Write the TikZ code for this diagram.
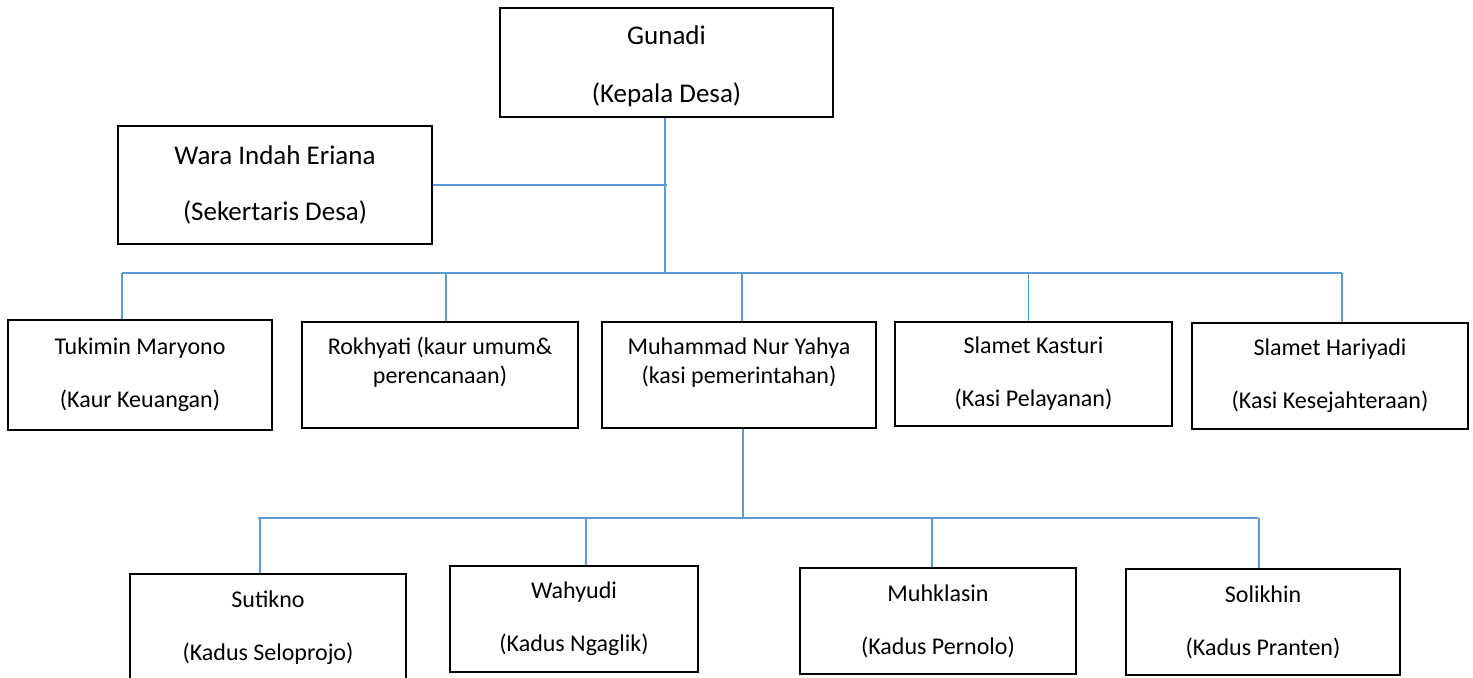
\documentclass[tikz,border=0pt]{standalone}
\usepackage{fontspec}
\setmainfont{Carlito}
\definecolor{linkblue}{RGB}{91,155,213}

\begin{document}
\begin{tikzpicture}[
  x=0.5pt, y=-0.5pt,
  box/.style={draw, thick, rectangle, align=center, inner sep=0pt,
    font=\fontsize{12}{14.5}\selectfont},
  bigbox/.style={box, font=\fontsize{13.5}{16}\selectfont},
  link/.style={linkblue, line width=0.75pt},
]
\useasboundingbox (0,0) rectangle (1473,677);

% kepala desa and sekretaris
\node (gunadi) [bigbox, minimum width=166.5pt, minimum height=54.5pt] at (666.5, 62.5)
  {\rule{0pt}{13.5pt}Gunadi\\[13pt](Kepala Desa)};
\node (wara) [bigbox, minimum width=157pt, minimum height=59pt] at (275, 185)
  {Wara Indah Eriana\\[12pt](Sekertaris Desa)};

% kaur and kasi
\node (tukimin) [box, minimum width=132pt, minimum height=55pt] at (140, 375)
  {Tukimin Maryono\\[12pt](Kaur Keuangan)};
\node (rokhyati) [box, minimum width=138pt, minimum height=53pt] at (440, 375)
  {Rokhyati (kaur umum\&\\perencanaan)\\~};
\node (muhammad) [box, minimum width=137pt, minimum height=53pt] at (739, 375)
  {Muhammad Nur Yahya\\(kasi pemerintahan)\\~};
\node (kasturi) [box, minimum width=138.5pt, minimum height=52pt] at (1033.5, 374)
  {Slamet Kasturi\\[12pt](Kasi Pelayanan)};
\node (hariyadi) [box, minimum width=138pt, minimum height=53pt] at (1330, 376)
  {Slamet Hariyadi\\[12pt](Kasi Kesejahteraan)};

% kadus
\node (sutikno) [box, minimum width=138pt, minimum height=54pt] at (268, 628)
  {Sutikno\\[12pt](Kadus Seloprojo)};
\node (wahyudi) [box, minimum width=124pt, minimum height=53pt] at (574, 619)
  {Wahyudi\\[12pt](Kadus Ngaglik)};
\node (muhklasin) [box, minimum width=138pt, minimum height=53pt] at (938, 621)
  {Muhklasin\\[12pt](Kadus Pernolo)};
\node (solikhin) [box, minimum width=137pt, minimum height=53pt] at (1263, 622)
  {Solikhin\\[12pt](Kadus Pranten)};

% bus lines
\coordinate (busA) at (122, 273);
\coordinate (busB) at (1342, 273);
\coordinate (busC) at (258, 518);
\coordinate (busD) at (1258, 518);

\draw[link] ([xshift=-0.75pt]gunadi.south) -- ([xshift=-0.75pt]gunadi.south |- busA);
\draw[link] (wara.east) -- (wara.east -| gunadi.south);
\draw[link] (busA) -- (busB);
\foreach \b/\dx in {tukimin/-9pt, rokhyati/3pt, muhammad/1.5pt, kasturi/-2.5pt, hariyadi/6pt} {
  \draw[link] ([xshift=\dx]\b.north) -- ([xshift=\dx]\b.north |- busA);
}

\draw[link] ([xshift=2pt]muhammad.south) -- ([xshift=2pt]muhammad.south |- busC);
\draw[link] (busC) -- (busD);
\foreach \b/\dx in {sutikno/-4pt, wahyudi/6pt, muhklasin/-3pt, solikhin/-2pt} {
  \draw[link] ([xshift=\dx]\b.north) -- ([xshift=\dx]\b.north |- busC);
}
\end{tikzpicture}
\end{document}
